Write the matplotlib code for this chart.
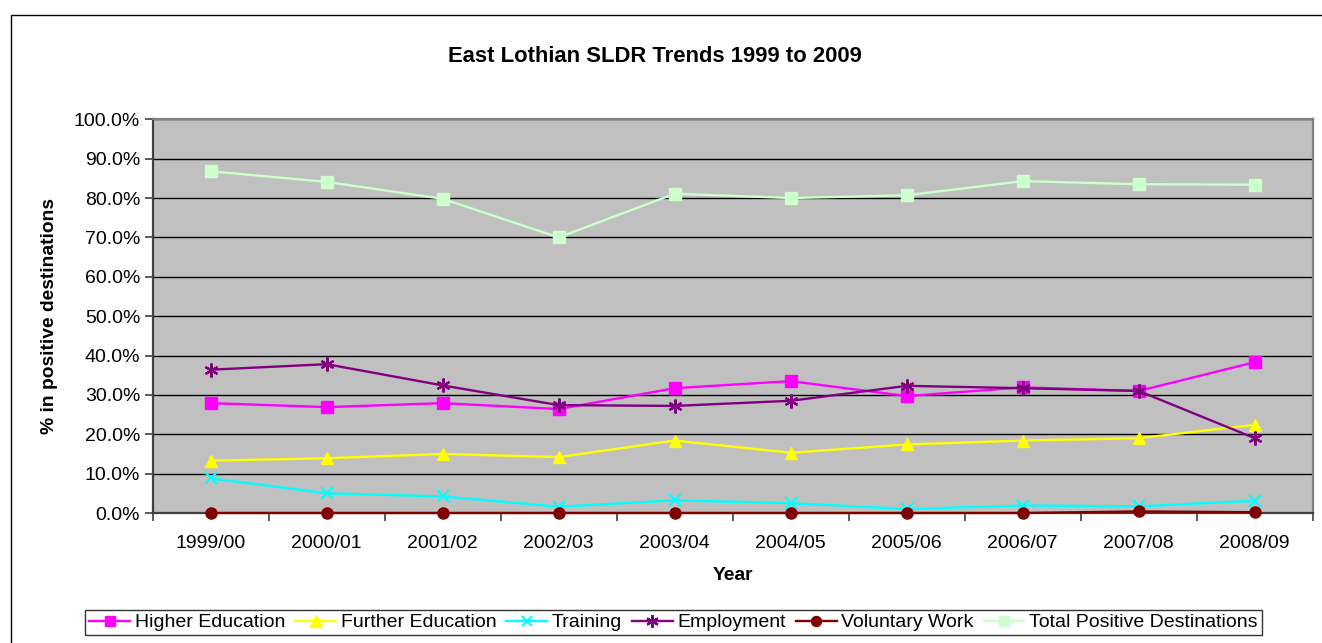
import matplotlib
matplotlib.use("Agg")
import matplotlib.pyplot as plt
from matplotlib.ticker import FuncFormatter, FixedLocator
from matplotlib.patches import Rectangle

plt.rcParams['font.family'] = ['Liberation Sans', 'DejaVu Sans']

years = ["1999/00", "2000/01", "2001/02", "2002/03", "2003/04",
         "2004/05", "2005/06", "2006/07", "2007/08", "2008/09"]
higher_education = [27.9, 26.9, 27.9, 26.4, 31.7, 33.5, 29.7, 31.9, 31.0, 38.3]
further_education = [13.3, 13.9, 15.0, 14.2, 18.4, 15.3, 17.4, 18.4, 19.0, 22.4]
training = [8.8, 5.0, 4.2, 1.6, 3.2, 2.5, 1.0, 1.9, 1.7, 3.1]
employment = [36.4, 37.8, 32.4, 27.4, 27.2, 28.5, 32.3, 31.7, 31.0, 19.0]
voluntary_work = [0.0, 0.0, 0.0, 0.0, 0.0, 0.0, 0.0, 0.0, 0.4, 0.2]
total_positive = [86.8, 84.1, 79.8, 70.0, 81.1, 80.0, 80.7, 84.3, 83.5, 83.4]

W, H = 1322, 643
fig = plt.figure(figsize=(W / 100, H / 100), dpi=100)

# outer chart frame (cropped at right/bottom)
fig.patches.append(Rectangle((11 / W, -0.1), 1.2, (H - 15) / H + 0.1,
                             transform=fig.transFigure, fill=False,
                             edgecolor='black', linewidth=1.0))

ax = fig.add_axes([152.7 / W, (H - 513) / H, (1312.7 - 152.7) / W, (513 - 119.3) / H])
ax.set_facecolor('#C0C0C0')

x = list(range(len(years)))
series = [
    ("Higher Education", higher_education, '#FF00FF', dict(marker='s', ms=8)),
    ("Further Education", further_education, '#FFFF00', dict(marker='^', ms=9)),
    ("Training", training, '#00FFFF', dict(marker='x', ms=8, mew=1.6)),
    ("Employment", employment, '#800080', dict(marker=(6, 2, 0), ms=10, mew=1.6)),
    ("Voluntary Work", voluntary_work, '#800000', dict(marker='o', ms=8)),
    ("Total Positive Destinations", total_positive, '#CCFFCC', dict(marker='s', ms=8)),
]
for name, vals, col, mk in series:
    ax.plot(x, vals, color=col, lw=1.7, label=name, markerfacecolor=col,
            markeredgecolor=col, clip_on=False, zorder=5, **mk)

ax.set_xlim(-0.5, len(years) - 0.5)
ax.set_ylim(0, 100)
ax.set_yticks(range(0, 101, 10))
ax.yaxis.set_major_formatter(FuncFormatter(lambda v, p: f"{v:.1f}%"))
ax.grid(axis='y', color='black', lw=1.0, zorder=1)
ax.set_axisbelow(True)

ax.set_xticks(x)
ax.set_xticklabels(years)
ax.xaxis.set_minor_locator(FixedLocator([i - 0.5 for i in range(len(years) + 1)]))
ax.tick_params(axis='x', which='major', length=0, pad=16, labelsize=14)
ax.tick_params(axis='x', which='minor', length=6, width=1.2, color='#404040', direction='out')
ax.tick_params(axis='y', which='major', length=6, width=1.2, color='#404040',
               direction='out', labelsize=14, pad=3)

for s in ['left', 'bottom']:
    ax.spines[s].set_color('#404040')
    ax.spines[s].set_linewidth(1.6)
for s in ['top', 'right']:
    ax.spines[s].set_color('#808080')
    ax.spines[s].set_linewidth(1.6)

fig.text(655 / W, 1 - 57 / H, "East Lothian SLDR Trends 1999 to 2009",
         ha='center', va='center', fontsize=15.8, fontweight='bold')
fig.text(50 / W, 1 - 316 / H, "% in positive destinations", rotation=90,
         ha='center', va='center', fontsize=13.9, fontweight='bold')
fig.text(732.7 / W, 1 - 576 / H, "Year", ha='center', va='center',
         fontsize=13.9, fontweight='bold')

leg = fig.legend(loc='center', bbox_to_anchor=(673.5 / W, 1 - 622.5 / H), ncol=6,
                 frameon=True, fancybox=False, fontsize=14, handlelength=2.1,
                 handletextpad=0.25, columnspacing=0.5, borderpad=0.2,
                 borderaxespad=0, markerscale=0.9)
leg.get_frame().set_edgecolor('black')
leg.get_frame().set_linewidth(1.0)

fig.savefig("out.png", dpi=100)
